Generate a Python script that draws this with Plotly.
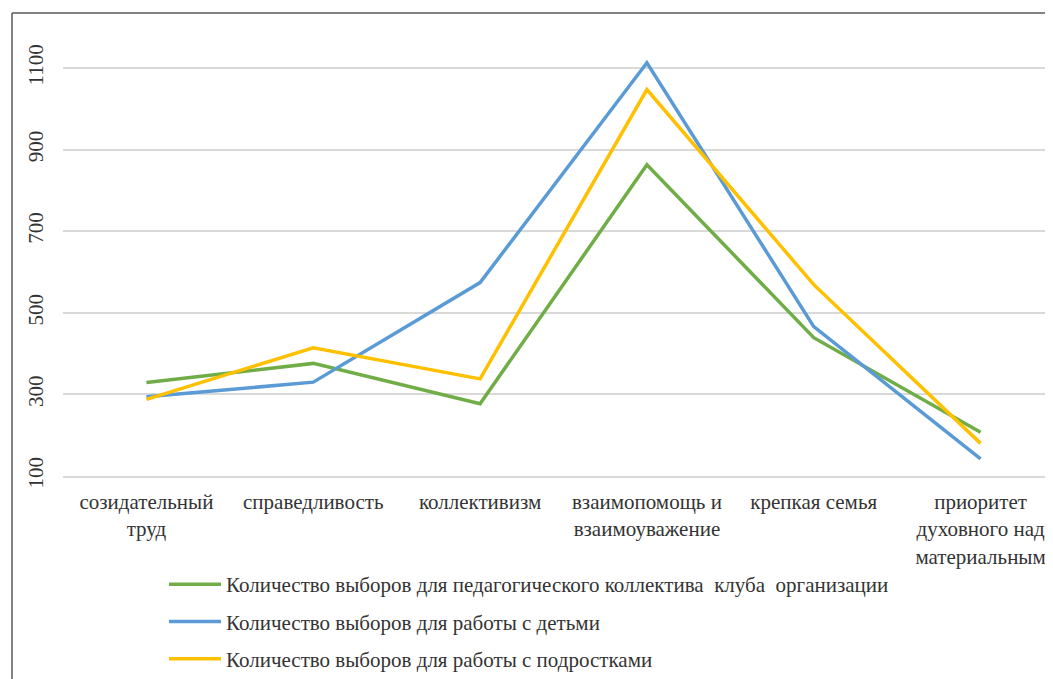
import plotly.graph_objects as go

categories = ["созидательный<br>труд", "справедливость", "коллективизм",
              "взаимопомощь и<br>взаимоуважение", "крепкая семья",
              "приоритет<br>духовного над<br>материальным"]
names = ["Количество выборов для педагогического коллектива  клуба  организации",
         "Количество выборов для работы с детьми",
         "Количество выборов для работы с подростками"]
green_vals = [329, 376, 277, 863, 439, 207]
blue_vals = [294, 330, 574, 1113, 466, 142]
yellow_vals = [288, 414, 338, 1047, 569, 180]
colors = ["#70ad47", "#5b9bd5", "#ffc000"]
y_ticks = [100, 300, 500, 700, 900, 1100]

FONT = "'Liberation Serif', 'Times New Roman', Tinos, 'DejaVu Serif', serif"
TXT = "#333333"
FS = 21

fig = go.Figure()
for i, (nm, vals) in enumerate(zip(names, [green_vals, blue_vals, yellow_vals])):
    fig.add_trace(go.Scatter(
        x=list(range(len(categories))), y=vals, mode="lines", name=nm,
        line=dict(color=colors[i], width=3.5), legendgroup=f"g{i}",
    ))

# page body has an 8px margin; figure sized to fit the window
W, H = 1045, 671
L, R, T, B = 55, 0, 12, 203
pw, ph = W - L - R, H - T - B
fig.update_layout(
    width=W, height=H,
    margin=dict(l=L, r=R, t=T, b=B, autoexpand=False),
    paper_bgcolor="white", plot_bgcolor="white",
    font=dict(family=FONT, size=FS, color=TXT),
    showlegend=True,
    legend=dict(
        x=(156 - L) / pw, xanchor="left",
        y=-(556 - (H - B)) / ph, yanchor="top",
        font=dict(family=FONT, size=FS, color=TXT),
        tracegroupgap=7, itemwidth=52,
        bgcolor="rgba(0,0,0,0)",
    ),
    xaxis=dict(
        tickmode="array", tickvals=list(range(len(categories))), ticktext=categories,
        range=[-0.5, 5.5 - 11 / 166.9], showgrid=False, zeroline=False,
        showline=True, linecolor="#d9d9d9", linewidth=1.5,
        ticks="", fixedrange=True,
        tickfont=dict(family=FONT, size=FS, color=TXT),
        ticklabelstandoff=6,
    ),
    yaxis=dict(
        range=[100, 1100 + 48 * 200 / 81.6], tickvals=y_ticks,
        showgrid=True, gridcolor="#d9d9d9", gridwidth=1.5,
        zeroline=False, showline=False, ticks="", tickangle=-90,
        tickfont=dict(family=FONT, size=FS, color=TXT),
        ticklabelstandoff=15,
    ),
)

# outer frame (left and top edges visible)
fx0 = (4 - L) / pw
fy1 = (H - B - 5) / ph
fig.add_shape(type="line", xref="paper", yref="paper", x0=fx0, x1=fx0, y0=-2, y1=fy1,
              line=dict(color="#595959", width=1.5))
fig.add_shape(type="line", xref="paper", yref="paper", x0=fx0, x1=1.2, y0=fy1, y1=fy1,
              line=dict(color="#595959", width=1.5))

fig.write_html("out.html")
